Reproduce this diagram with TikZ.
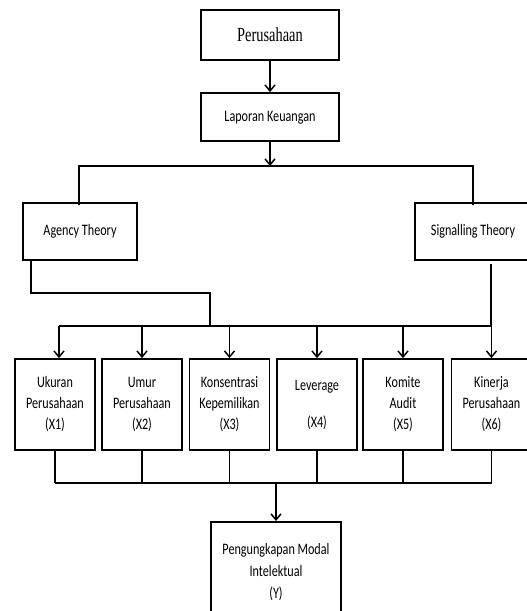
\documentclass[tikz,border=0pt]{standalone}
\usepackage{fontspec}
\usepackage{graphicx}
\setmainfont{Carlito}
\newfontfamily\serifname{Liberation Serif}
\usetikzlibrary{arrows.meta}
\newcommand{\sqz}[1]{\scalebox{0.76}[1]{\begin{tabular}{@{}c@{}}#1\end{tabular}}}
\begin{document}
\begin{tikzpicture}[x=1pt,y=-1pt,
  box/.style={draw,line width=1.8pt,inner sep=0pt,align=center,font=\fontsize{16}{21}\selectfont},
  conn/.style={line width=1.8pt},
  arr/.style={line width=1.8pt,-{Straight Barb[length=6pt,width=10pt,line width=1.5pt]}},
  txt/.style={align=center,inner sep=0pt,font=\fontsize{16}{22}\selectfont}]
\useasboundingbox (0,0) rectangle (527,611);
% top boxes
\node[box,minimum width=138pt,minimum height=50pt,font=\serifname\fontsize{20}{22}\selectfont] (per) at (270,35) {\scalebox{0.72}[1]{Perusahaan}};
\node[box,minimum width=138pt,minimum height=48pt] (lap) at (270,117) {\sqz{Laporan Keuangan}};
\draw[arr] (per.south) -- (lap.north);
\coordinate (j1) at (270,166);
\draw[arr] (lap.south) -- (j1);
% theories
\node[box,minimum width=114pt,minimum height=57pt] (ag) at (80,231.5) {\sqz{Agency Theory}};
\node[box,minimum width=116pt,minimum height=57pt] (sig) at (473,231.5) {\sqz{Signalling Theory}};
\coordinate (jl) at (79,166);
\coordinate (jr) at (473,166);
\draw[conn] ([yshift=-3pt]ag.north -| jl) -- (jl) -- (jr) -- ([yshift=-3pt]sig.north);
% row boxes
\foreach \n/\x/\t in {b1/55/{Ukuran\\Perusahaan\\(X1)},
                      b2/142/{Umur\\Perusahaan\\(X2)},
                      b3/229.5/{Konsentrasi\\Kepemilikan\\(X3)},
                      b4/317/{Leverage\\[16pt](X4)},
                      b5/403/{\raisebox{-3pt}{\begin{tabular}{@{}c@{}}Komite\\Audit\\(X5)\end{tabular}}},
                      b6/491.5/{Kinerja\\Perusahaan\\(X6)}}
  \node[box,minimum width=80pt,minimum height=91pt] (\n) at (\x,404.5) {\sqz{\t}};
% agency and signalling to bus
\coordinate (a1) at (31,293);
\coordinate (a2) at (210,293);
\coordinate (a3) at (210,326);
\coordinate (busl) at (59,326);
\coordinate (busr) at (491,326);
\draw[conn] (ag.south -| a1) -- (a1) -- (a2) -- (a3);
\draw[conn] (busl) -- (busr);
\draw[conn] ([yshift=-3pt]sig.south -| busr) -- (busr);
\draw[arr] (busl) -- (busl |- b1.north);
\foreach \n in {b2,b3,b4,b5,b6}
  \draw[arr] (\n.north |- busr) -- (\n.north);
% bottom bus
\coordinate (bl) at (55,483);
\coordinate (br) at (491.5,483);
\draw[conn] (bl) -- (br);
\foreach \n in {b1,b2,b3,b4,b5,b6}
  \draw[conn] (\n.south) -- (\n.south |- bl);
% Y box
\node[box,minimum width=130pt,minimum height=120pt,anchor=north] (y) at (276,521) {};
\node[txt] (ytext) at (276,572) {\scalebox{0.76}[1]{\begin{tabular}{@{}c@{}}Pengungkapan Modal\\Intelektual\\(Y)\end{tabular}}};
\coordinate (by) at (276,483);
\draw[arr] (by) -- (y.north);
\end{tikzpicture}
\end{document}
